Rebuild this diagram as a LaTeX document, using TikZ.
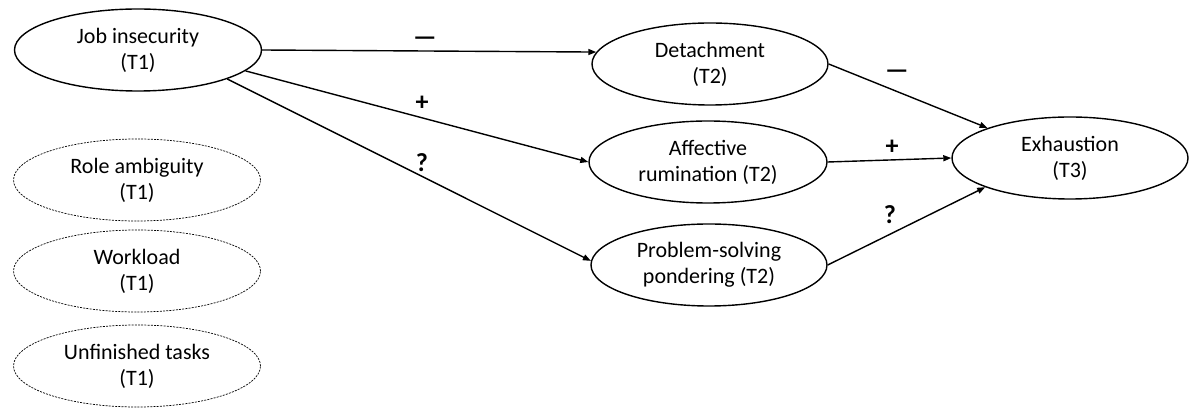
\documentclass[tikz,border=0pt]{standalone}
\usepackage{fontspec}
\setmainfont{Carlito}
\usetikzlibrary{shapes.geometric,arrows.meta}
\begin{document}
\begin{tikzpicture}[x=1pt,y=-1pt,
  var/.style={ellipse,draw,line width=1.4pt,inner sep=0pt,minimum width=240pt,minimum height=82pt,align=center,font=\fontsize{22}{26}\selectfont},
  ctrl/.style={var,line width=0.7pt,dash pattern=on 2pt off 1.2pt},
  path/.style={line width=1.4pt,-{Triangle[length=8pt,width=6pt]}},
  sign/.style={font=\fontsize{26}{28}\selectfont\bfseries}]
\useasboundingbox (0,0) rectangle (1200,419);
\node[var,minimum width=247pt] (ji) at (138,50) {Job insecurity\\(T1)};
\node[ctrl,minimum width=247pt] (ra) at (137,180) {Role ambiguity\\(T1)};
\node[ctrl,minimum width=247pt] (wl) at (137,271) {Workload\\(T1)};
\node[ctrl,minimum width=247pt] (ut) at (137,366) {Unfinished tasks\\(T1)};
\node[var,minimum width=236pt] (det) at (710,64) {Detachment\\(T2)};
\node[var,minimum width=238pt] (aff) at (708,162) {Affective\\rumination (T2)};
\node[var,minimum width=236pt] (ps) at (709,265) {Problem-solving\\pondering (T2)};
\node[var,minimum width=236pt] (exh) at (1070,158) {Exhaustion\\(T3)};
\draw[path] (ji.east) -- (det.174);
\draw[path] (ji.349) -- (aff.west);
\draw[path] (ji.342) -- (ps.178);
\draw[path] (det.east) -- (exh.160.6);
\draw[path] (aff.east) -- (exh.west);
\draw[path] (ps.east) -- (exh.199.4);
\node[sign] (s1) at (425,41) {—};
\node[sign] (s2) at (422,103) {+};
\node[sign] (s3) at (422,163) {?};
\node[sign] (s4) at (897,74) {—};
\node[sign] (s5) at (892,147) {+};
\node[sign] (s6) at (890,215) {?};
\end{tikzpicture}
\end{document}
